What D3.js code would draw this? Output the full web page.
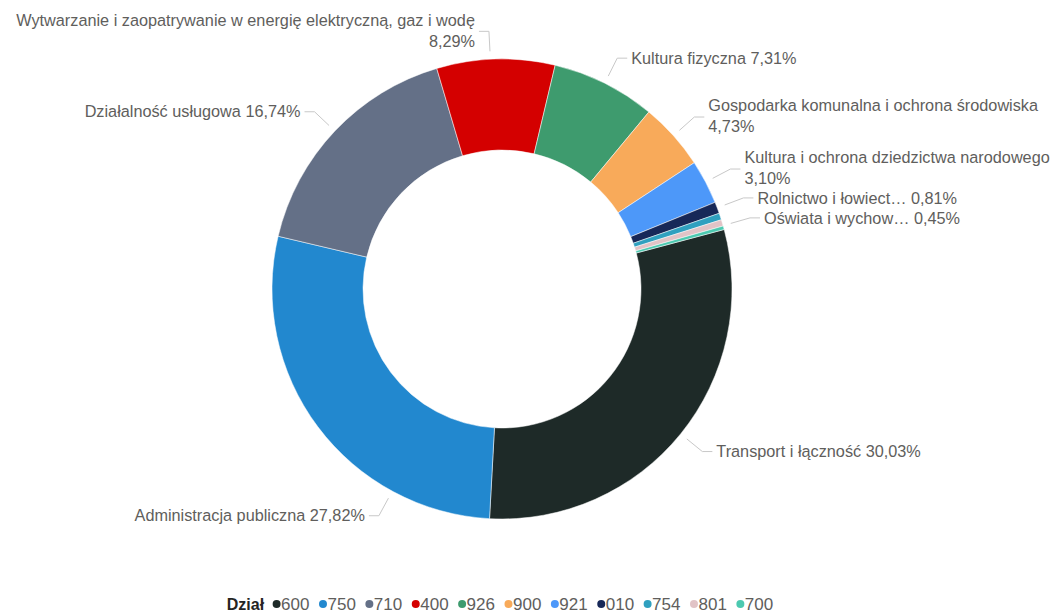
<!DOCTYPE html>
<html>
<head>
<meta charset="utf-8">
<script src="https://cdn.jsdelivr.net/npm/d3@7"></script>
<style>
  html, body { margin: 0; padding: 0; background: #fff; }
  #chart { width: 1064px; height: 615px; }
  text { font-family: "Liberation Sans", Arial, sans-serif; }
</style>
</head>
<body>
<div id="chart"></div>
<script>
// Data (clockwise order of the slices)
const codes = ['600', '750', '710', '400', '926', '900', '921', '010', '754', '801', '700'];
const names = [
  'Transport i łączność',
  'Administracja publiczna',
  'Działalność usługowa',
  'Wytwarzanie i zaopatrywanie w energię elektryczną, gaz i wodę',
  'Kultura fizyczna',
  'Gospodarka komunalna i ochrona środowiska',
  'Kultura i ochrona dziedzictwa narodowego',
  'Rolnictwo i łowiect…',
  'Bezpieczeństwo publiczne',
  'Oświata i wychow…',
  'Gospodarka mieszkaniowa'
];
const shares = [30.03, 27.82, 16.74, 8.29, 7.31, 4.73, 3.10, 0.81, 0.47, 0.45, 0.25];
const labelled = ['600', '750', '710', '400', '926', '900', '921', '010', '801'];
const colors = ['#1e2a28', '#2288cf', '#647087', '#d40000', '#3e9b6e', '#f8aa5a', '#4d98f9', '#172858', '#2fa0bf', '#e1c3c6', '#4cc9b0'];

const width = 1064, height = 615;
const cx = 502, cy = 289;
const outerR = 230, innerR = 139;
const startDeg = 75;
// a few labels sit off their slice's mid angle in the original
const labelAngleOverride = { '750': 208.5, '400': -2.9, '801': 74 };

const fmtPct = v => d3.format('.2f')(v).replace('.', ',') + '%';

const svg = d3.select('#chart').append('svg')
  .attr('width', width)
  .attr('height', height);

const color = d3.scaleOrdinal().domain(codes).range(colors);

const rows = codes.map((c, i) => ({ code: c, name: names[i], value: shares[i] }));

const pie = d3.pie()
  .sort(null)
  .value(d => d.value)
  .startAngle(startDeg * Math.PI / 180)
  .endAngle((startDeg + 360) * Math.PI / 180);

const arcs = pie(rows);

const arc = d3.arc().innerRadius(innerR).outerRadius(outerR);

const g = svg.append('g').attr('transform', `translate(${cx},${cy})`);

g.selectAll('path')
  .data(arcs)
  .join('path')
  .attr('d', arc)
  .attr('fill', d => color(d.data.code))
  .attr('stroke', '#fff')
  .attr('stroke-width', 0.5);

// Labels with leader lines
const polar = (r, a) => [r * Math.sin(a), -r * Math.cos(a)];
const elbowR = 258, startR = 238;

const labelG = g.append('g');

arcs.filter(d => labelled.includes(d.data.code)).forEach(d => {
  let a = (d.startAngle + d.endAngle) / 2;
  if (labelAngleOverride[d.data.code] !== undefined) a = labelAngleOverride[d.data.code] * Math.PI / 180;
  const side = Math.sin(a) >= 0 ? 1 : -1;
  const p0 = polar(startR, a);
  const p1 = polar(elbowR, a);
  const p2 = [p1[0] + side * 10, p1[1]];

  labelG.append('polyline')
    .attr('points', [p0, p1, p2].map(p => p.join(',')).join(' '))
    .attr('fill', 'none')
    .attr('stroke', '#c8c8c8')
    .attr('stroke-width', 1);

  const tx = p2[0] + side * 4;
  const text = labelG.append('text')
    .attr('x', tx)
    .attr('y', p1[1])
    .attr('dy', '0.35em')
    .attr('text-anchor', side > 0 ? 'start' : 'end')
    .attr('fill', '#605e5c')
    .style('font-size', '16.25px')
    .text(d.data.name + ' ' + fmtPct(d.data.value));

  const w = text.node().getComputedTextLength();
  const absX = cx + tx;
  const overflow = side > 0 ? absX + w > width - 4 : absX - w < 4;
  if (overflow) {
    text.text('');
    text.append('tspan').attr('x', tx).attr('y', p1[1] - 11.5).attr('dy', '0.35em').text(d.data.name);
    text.append('tspan').attr('x', tx).attr('y', p1[1] + 9.5).attr('dy', '0.35em').text(fmtPct(d.data.value));
  }
});

// Legend
const legend = svg.append('g');
const legendY = 604;
const title = legend.append('text')
  .attr('x', 0)
  .attr('y', legendY)
  .attr('dy', '0.35em')
  .attr('fill', '#252423')
  .style('font-size', '16px')
  .style('font-weight', 'bold')
  .text('Dział');
let lx = title.node().getComputedTextLength() + 8;

codes.forEach(c => {
  legend.append('circle')
    .attr('cx', lx + 4.5)
    .attr('cy', legendY)
    .attr('r', 4)
    .attr('fill', color(c));
  const t = legend.append('text')
    .attr('x', lx + 9)
    .attr('y', legendY)
    .attr('dy', '0.35em')
    .attr('fill', '#605e5c')
    .style('font-size', '17px')
    .text(c);
  lx += 9 + t.node().getComputedTextLength() + 9;
});
const legendW = lx - 9;
legend.attr('transform', `translate(${500 - legendW / 2},0)`);
</script>
</body>
</html>
